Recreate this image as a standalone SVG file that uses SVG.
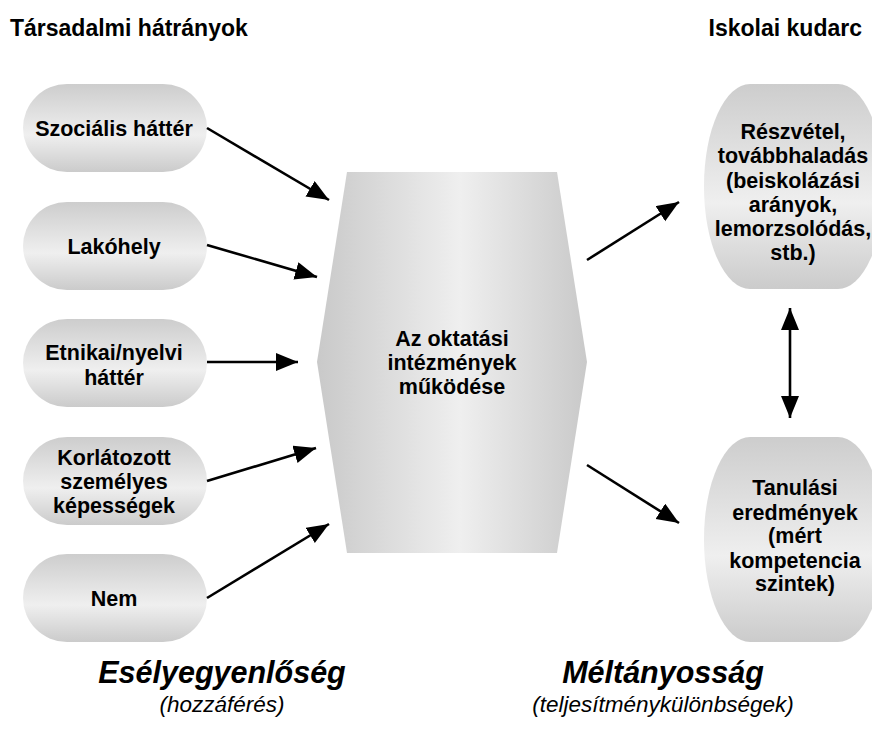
<svg xmlns="http://www.w3.org/2000/svg" width="872" height="745" viewBox="0 0 872 745">
<defs>
<linearGradient id="gv" x1="0" y1="0" x2="0" y2="1">
<stop offset="0" stop-color="#cdcdcd"/>
<stop offset="0.58" stop-color="#efefef"/>
<stop offset="1" stop-color="#cbcbcb"/>
</linearGradient>
<linearGradient id="gh" x1="0" y1="0" x2="1" y2="0">
<stop offset="0" stop-color="#c9c9c9"/>
<stop offset="0.53" stop-color="#efefef"/>
<stop offset="1" stop-color="#c9c9c9"/>
</linearGradient>
<marker id="ah" markerUnits="userSpaceOnUse" markerWidth="24" markerHeight="20" refX="22" refY="9" orient="auto-start-reverse">
<path d="M0,0 L22,9 L0,18 Z" fill="#000"/>
</marker>
</defs>
<style>
text{font-family:"Liberation Sans",Arial,sans-serif;font-weight:bold;fill:#000}
.t{font-size:23px}
.n{font-size:21.5px;text-anchor:middle}
.big{font-size:30.5px;font-style:italic;text-anchor:middle}
.sub{font-size:22.5px;font-style:italic;font-weight:normal;text-anchor:middle}
.pill{fill:url(#gv)}
.cn line{stroke:#000;stroke-width:2.6;marker-end:url(#ah)}
</style>
<g id="titles">
<text class="t" x="10" y="36">Társadalmi hátrányok</text>
<text class="t" x="862" y="36" text-anchor="end">Iskolai kudarc</text>
</g>
<g id="n1"><rect class="pill" x="23" y="84" width="184" height="88" rx="44"/><text class="n" x="114" y="136">Szociális háttér</text></g>
<g id="n2"><rect class="pill" x="23" y="202" width="184" height="88" rx="44"/><text class="n" x="114" y="254">Lakóhely</text></g>
<g id="n3"><rect class="pill" x="23" y="319" width="184" height="88" rx="44"/><text class="n" x="114" y="360">Etnikai/nyelvi</text><text class="n" x="114" y="385">háttér</text></g>
<g id="n4"><rect class="pill" x="23" y="437" width="184" height="88" rx="44"/><text class="n" x="114" y="465">Korlátozott</text><text class="n" x="114" y="489">személyes</text><text class="n" x="114" y="513">képességek</text></g>
<g id="n5"><rect class="pill" x="23" y="554" width="184" height="88" rx="44"/><text class="n" x="114" y="606">Nem</text></g>
<g id="center"><polygon points="347,172 557,172 587,362 557,553 347,553 317,362" fill="url(#gh)"/>
<text class="n" x="452" y="346">Az oktatási</text><text class="n" x="452" y="370">intézmények</text><text class="n" x="452" y="394">működése</text></g>
<g id="r1"><rect class="pill" x="704" y="84" width="180" height="205" rx="46" ry="102"/>
<text class="n" x="793" y="139">Részvétel,</text><text class="n" x="793" y="163">továbbhaladás</text><text class="n" x="793" y="188">(beiskolázási</text><text class="n" x="793" y="212">arányok,</text><text class="n" x="793" y="236">lemorzsolódás,</text><text class="n" x="793" y="260">stb.)</text></g>
<g id="r2"><rect class="pill" x="704" y="437" width="180" height="205" rx="46" ry="102"/>
<text class="n" x="795" y="495">Tanulási</text><text class="n" x="795" y="520">eredmények</text><text class="n" x="795" y="543">(mért</text><text class="n" x="795" y="568">kompetencia</text><text class="n" x="795" y="591">szintek)</text></g>
<g id="connectors" class="cn">
<line x1="207" y1="128" x2="329" y2="200"/>
<line x1="207" y1="245" x2="317" y2="277"/>
<line x1="207" y1="362" x2="298" y2="362"/>
<line x1="207" y1="481" x2="316" y2="448"/>
<line x1="207" y1="598" x2="329" y2="524"/>
<line x1="587" y1="260" x2="679" y2="202"/>
<line x1="587" y1="465" x2="679" y2="523"/>
<line x1="790" y1="308" x2="790" y2="418" marker-start="url(#ah)"/>
</g>
<g id="footer">
<text class="big" x="222" y="683">Esélyegyenlőség</text>
<text class="sub" x="222" y="712">(hozzáférés)</text>
<text class="big" x="663" y="683">Méltányosság</text>
<text class="sub" x="663" y="712">(teljesítménykülönbségek)</text>
</g>
</svg>
